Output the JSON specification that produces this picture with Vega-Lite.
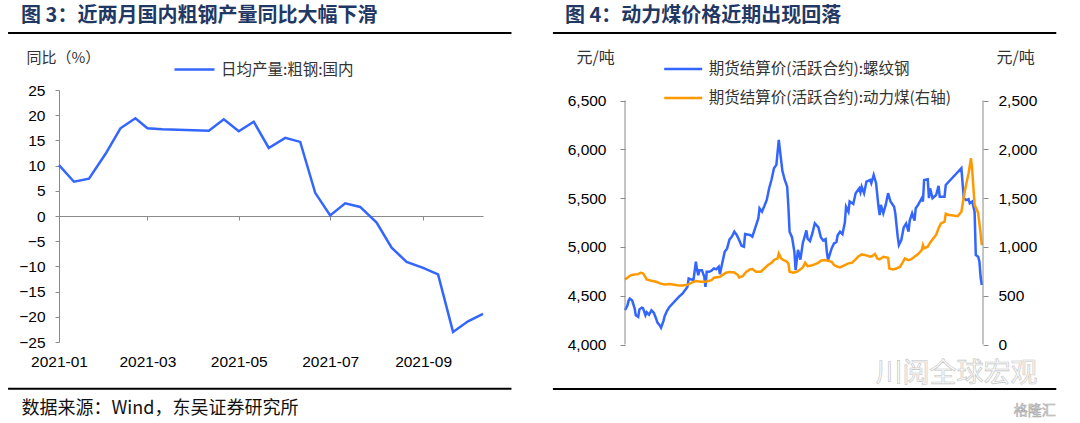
{
"$schema": "https://vega.github.io/schema/vega-lite/v6.json",
"padding": {"left": 7, "top": 5, "right": 0, "bottom": 0},
"background": "white",
"spacing": 38,
"resolve": {"scale": {"color": "independent"}, "legend": {"color": "independent"}},
"datasets": {
"steel": [{"date":"2021-01-01","value":10.1},{"date":"2021-01-11","value":6.8},{"date":"2021-01-21","value":7.4},{"date":"2021-02-01","value":12.3},{"date":"2021-02-11","value":17.4},{"date":"2021-02-21","value":19.4},{"date":"2021-03-01","value":17.4},{"date":"2021-03-11","value":17.2},{"date":"2021-04-11","value":16.9},{"date":"2021-04-21","value":19.2},{"date":"2021-05-01","value":16.8},{"date":"2021-05-11","value":18.7},{"date":"2021-05-21","value":13.5},{"date":"2021-06-01","value":15.5},{"date":"2021-06-11","value":14.7},{"date":"2021-06-21","value":4.6},{"date":"2021-07-01","value":0.1},{"date":"2021-07-11","value":2.5},{"date":"2021-07-21","value":1.8},{"date":"2021-08-01","value":-1.3},{"date":"2021-08-11","value":-6.3},{"date":"2021-08-21","value":-9.1},{"date":"2021-09-01","value":-10.3},{"date":"2021-09-11","value":-11.6},{"date":"2021-09-21","value":-23.0},{"date":"2021-10-01","value":-20.9},{"date":"2021-10-11","value":-19.4}],
"rebar": [{"date":"2021-01-04","value":4352},{"date":"2021-01-06","value":4400},{"date":"2021-01-07","value":4450},{"date":"2021-01-08","value":4470},{"date":"2021-01-10","value":4450},{"date":"2021-01-12","value":4370},{"date":"2021-01-13","value":4300},{"date":"2021-01-15","value":4283},{"date":"2021-01-16","value":4360},{"date":"2021-01-18","value":4378},{"date":"2021-01-19","value":4372},{"date":"2021-01-21","value":4300},{"date":"2021-01-22","value":4330},{"date":"2021-01-24","value":4305},{"date":"2021-01-26","value":4350},{"date":"2021-01-28","value":4325},{"date":"2021-01-30","value":4262},{"date":"2021-01-31","value":4225},{"date":"2021-02-02","value":4195},{"date":"2021-02-03","value":4172},{"date":"2021-02-05","value":4240},{"date":"2021-02-06","value":4290},{"date":"2021-02-08","value":4345},{"date":"2021-02-10","value":4385},{"date":"2021-02-18","value":4490},{"date":"2021-02-21","value":4523},{"date":"2021-02-24","value":4574},{"date":"2021-02-25","value":4591},{"date":"2021-02-26","value":4677},{"date":"2021-02-28","value":4667},{"date":"2021-03-02","value":4660},{"date":"2021-03-04","value":4848},{"date":"2021-03-05","value":4762},{"date":"2021-03-06","value":4711},{"date":"2021-03-07","value":4762},{"date":"2021-03-09","value":4762},{"date":"2021-03-11","value":4694},{"date":"2021-03-12","value":4591},{"date":"2021-03-13","value":4745},{"date":"2021-03-15","value":4745},{"date":"2021-03-17","value":4756},{"date":"2021-03-19","value":4780},{"date":"2021-03-21","value":4770},{"date":"2021-03-23","value":4797},{"date":"2021-03-24","value":4721},{"date":"2021-03-26","value":4838},{"date":"2021-03-28","value":4950},{"date":"2021-03-30","value":4985},{"date":"2021-04-01","value":5077},{"date":"2021-04-03","value":5105},{"date":"2021-04-05","value":5156},{"date":"2021-04-07","value":5122},{"date":"2021-04-09","value":5070},{"date":"2021-04-11","value":5012},{"date":"2021-04-13","value":5002},{"date":"2021-04-14","value":5132},{"date":"2021-04-16","value":5128},{"date":"2021-04-18","value":5122},{"date":"2021-04-20","value":5105},{"date":"2021-04-22","value":5180},{"date":"2021-04-25","value":5293},{"date":"2021-04-26","value":5395},{"date":"2021-04-28","value":5361},{"date":"2021-04-30","value":5419},{"date":"2021-05-02","value":5481},{"date":"2021-05-04","value":5601},{"date":"2021-05-06","value":5690},{"date":"2021-05-08","value":5806},{"date":"2021-05-10","value":5840},{"date":"2021-05-12","value":6097},{"date":"2021-05-13","value":5990},{"date":"2021-05-15","value":5780},{"date":"2021-05-17","value":5686},{"date":"2021-05-19","value":5617},{"date":"2021-05-20","value":5412},{"date":"2021-05-21","value":5156},{"date":"2021-05-23","value":5100},{"date":"2021-05-25","value":4950},{"date":"2021-05-26","value":4762},{"date":"2021-05-28","value":4970},{"date":"2021-05-30","value":4870},{"date":"2021-06-01","value":5037},{"date":"2021-06-04","value":5170},{"date":"2021-06-05","value":5085},{"date":"2021-06-07","value":5060},{"date":"2021-06-09","value":5140},{"date":"2021-06-11","value":5242},{"date":"2021-06-14","value":5200},{"date":"2021-06-16","value":5100},{"date":"2021-06-18","value":5065},{"date":"2021-06-20","value":5080},{"date":"2021-06-21","value":4950},{"date":"2021-06-22","value":4865},{"date":"2021-06-25","value":4985},{"date":"2021-06-27","value":5035},{"date":"2021-06-29","value":5050},{"date":"2021-06-30","value":5120},{"date":"2021-07-02","value":5156},{"date":"2021-07-04","value":5130},{"date":"2021-07-06","value":5250},{"date":"2021-07-07","value":5412},{"date":"2021-07-09","value":5360},{"date":"2021-07-10","value":5465},{"date":"2021-07-13","value":5440},{"date":"2021-07-15","value":5550},{"date":"2021-07-18","value":5600},{"date":"2021-07-19","value":5560},{"date":"2021-07-20","value":5617},{"date":"2021-07-22","value":5550},{"date":"2021-07-24","value":5669},{"date":"2021-07-27","value":5686},{"date":"2021-07-28","value":5652},{"date":"2021-07-30","value":5737},{"date":"2021-08-01","value":5652},{"date":"2021-08-03","value":5412},{"date":"2021-08-04","value":5327},{"date":"2021-08-05","value":5430},{"date":"2021-08-07","value":5344},{"date":"2021-08-09","value":5430},{"date":"2021-08-11","value":5550},{"date":"2021-08-13","value":5465},{"date":"2021-08-16","value":5412},{"date":"2021-08-17","value":5344},{"date":"2021-08-19","value":5105},{"date":"2021-08-20","value":5019},{"date":"2021-08-22","value":5070},{"date":"2021-08-24","value":5200},{"date":"2021-08-26","value":5240},{"date":"2021-08-28","value":5156},{"date":"2021-08-29","value":5270},{"date":"2021-08-31","value":5344},{"date":"2021-09-02","value":5270},{"date":"2021-09-03","value":5396},{"date":"2021-09-05","value":5430},{"date":"2021-09-08","value":5499},{"date":"2021-09-09","value":5465},{"date":"2021-09-10","value":5686},{"date":"2021-09-13","value":5693},{"date":"2021-09-14","value":5499},{"date":"2021-09-15","value":5600},{"date":"2021-09-17","value":5499},{"date":"2021-09-20","value":5532},{"date":"2021-09-22","value":5625},{"date":"2021-09-23","value":5515},{"date":"2021-09-27","value":5515},{"date":"2021-09-28","value":5635},{"date":"2021-10-11","value":5806},{"date":"2021-10-13","value":5499},{"date":"2021-10-15","value":5480},{"date":"2021-10-17","value":5490},{"date":"2021-10-18","value":5447},{"date":"2021-10-20","value":5465},{"date":"2021-10-22","value":5361},{"date":"2021-10-23","value":4916},{"date":"2021-10-25","value":4900},{"date":"2021-10-26","value":4850},{"date":"2021-10-27","value":4694},{"date":"2021-10-28","value":4610}],
"coal": [{"date":"2021-01-04","value":667},{"date":"2021-01-07","value":694},{"date":"2021-01-09","value":711},{"date":"2021-01-12","value":718},{"date":"2021-01-15","value":721},{"date":"2021-01-17","value":735},{"date":"2021-01-19","value":730},{"date":"2021-01-21","value":690},{"date":"2021-01-22","value":667},{"date":"2021-01-26","value":653},{"date":"2021-01-30","value":643},{"date":"2021-02-02","value":626},{"date":"2021-02-06","value":615},{"date":"2021-02-10","value":619},{"date":"2021-02-18","value":605},{"date":"2021-02-21","value":605},{"date":"2021-02-25","value":612},{"date":"2021-03-01","value":636},{"date":"2021-03-04","value":650},{"date":"2021-03-08","value":643},{"date":"2021-03-12","value":643},{"date":"2021-03-17","value":660},{"date":"2021-03-19","value":684},{"date":"2021-03-24","value":694},{"date":"2021-03-26","value":711},{"date":"2021-03-29","value":735},{"date":"2021-04-01","value":742},{"date":"2021-04-05","value":738},{"date":"2021-04-08","value":711},{"date":"2021-04-09","value":687},{"date":"2021-04-12","value":701},{"date":"2021-04-15","value":745},{"date":"2021-04-18","value":769},{"date":"2021-04-20","value":773},{"date":"2021-04-23","value":745},{"date":"2021-04-27","value":745},{"date":"2021-04-30","value":779},{"date":"2021-05-03","value":814},{"date":"2021-05-06","value":838},{"date":"2021-05-08","value":865},{"date":"2021-05-11","value":882},{"date":"2021-05-12","value":933},{"date":"2021-05-14","value":882},{"date":"2021-05-16","value":865},{"date":"2021-05-18","value":855},{"date":"2021-05-20","value":831},{"date":"2021-05-21","value":745},{"date":"2021-05-24","value":735},{"date":"2021-05-27","value":745},{"date":"2021-05-29","value":762},{"date":"2021-06-01","value":790},{"date":"2021-06-03","value":838},{"date":"2021-06-05","value":803},{"date":"2021-06-08","value":810},{"date":"2021-06-11","value":821},{"date":"2021-06-14","value":838},{"date":"2021-06-16","value":858},{"date":"2021-06-19","value":865},{"date":"2021-06-22","value":858},{"date":"2021-06-25","value":848},{"date":"2021-06-27","value":814},{"date":"2021-06-30","value":797},{"date":"2021-07-02","value":790},{"date":"2021-07-06","value":814},{"date":"2021-07-09","value":831},{"date":"2021-07-12","value":838},{"date":"2021-07-15","value":872},{"date":"2021-07-17","value":899},{"date":"2021-07-20","value":923},{"date":"2021-07-24","value":913},{"date":"2021-07-27","value":899},{"date":"2021-07-29","value":906},{"date":"2021-07-31","value":927},{"date":"2021-08-02","value":882},{"date":"2021-08-04","value":872},{"date":"2021-08-07","value":899},{"date":"2021-08-11","value":889},{"date":"2021-08-12","value":779},{"date":"2021-08-15","value":769},{"date":"2021-08-18","value":779},{"date":"2021-08-21","value":797},{"date":"2021-08-23","value":838},{"date":"2021-08-25","value":882},{"date":"2021-08-28","value":865},{"date":"2021-08-30","value":872},{"date":"2021-09-02","value":899},{"date":"2021-09-05","value":927},{"date":"2021-09-08","value":968},{"date":"2021-09-09","value":1019},{"date":"2021-09-10","value":985},{"date":"2021-09-13","value":1002},{"date":"2021-09-15","value":1043},{"date":"2021-09-17","value":1077},{"date":"2021-09-20","value":1122},{"date":"2021-09-22","value":1190},{"date":"2021-09-24","value":1241},{"date":"2021-09-27","value":1259},{"date":"2021-09-28","value":1340},{"date":"2021-09-30","value":1330},{"date":"2021-10-08","value":1315},{"date":"2021-10-11","value":1361},{"date":"2021-10-14","value":1583},{"date":"2021-10-17","value":1755},{"date":"2021-10-19","value":1908},{"date":"2021-10-20","value":1789},{"date":"2021-10-22","value":1430},{"date":"2021-10-24","value":1378},{"date":"2021-10-25","value":1344},{"date":"2021-10-27","value":1139},{"date":"2021-10-28","value":1019}]
},
"hconcat": [
{
"width": 424,
"height": 252,
"title": {"text": "图 3：近两月国内粗钢产量同比大幅下滑", "dx": 14},
"layer": [
{
"data": {"name": "steel"},
"mark": {"type": "line", "strokeWidth": 2.5},
"encoding": {
"x": {"field": "date", "type": "temporal",
"scale": {"type": "utc", "domain": [{"year":2021,"month":1,"date":1,"utc":true},{"year":2021,"month":10,"date":11,"utc":true}]},
"axis": {"orient": "bottom", "values": [{"year":2021,"month":1,"date":1,"utc":true},{"year":2021,"month":3,"date":1,"utc":true},{"year":2021,"month":5,"date":1,"utc":true},{"year":2021,"month":7,"date":1,"utc":true},{"year":2021,"month":9,"date":1,"utc":true}],
"format": "%Y-%m", "domain": false, "ticks": false, "tickSize": 0, "labelPadding": 12, "labelFlush": false, "labelAngle": 0,
"title": "数据来源：Wind，东吴证券研究所", "titleX": -38, "titleY": 66, "titleAlign": "left", "titleBaseline": "middle"}},
"y": {"field": "value", "type": "quantitative",
"scale": {"domain": [-25, 25], "nice": false, "zero": false},
"axis": {"orient": "left", "values": [-25,-20,-15,-10,-5,0,5,10,15,20,25], "tickSize": 4, "labelPadding": 10,
"title": "同比（%）", "titleAngle": 0, "titleX": -33, "titleY": -33, "titleAlign": "left", "titleBaseline": "middle", "titleFontSize": 15, "titleColor": "#333333"}},
"color": {"datum": "日均产量:粗钢:国内", "type": "nominal",
"scale": {"domain": ["日均产量:粗钢:国内"], "range": ["#3366ff"]},
"legend": {"orient": "none", "legendX": 114, "legendY": -42, "title": null, "symbolType": "stroke", "symbolSize": 1600, "symbolStrokeWidth": 2.5, "labelFont": "Noto Sans CJK SC", "labelFontSize": 15.5, "labelColor": "#333333", "labelOffset": 5, "padding": 0, "labelLimit": 500}}
}
},
{
"data": {"values": [{}]},
"mark": {"type": "rule", "strokeWidth": 2, "color": "#000000"},
"encoding": {
"x": {"datum": {"year":2020,"month":11,"date":28,"utc":true}, "type": "temporal",
"scale": {"type": "utc", "domain": [{"year":2021,"month":1,"date":1,"utc":true},{"year":2021,"month":10,"date":11,"utc":true}]},
"axis": {"orient": "bottom", "offset": -126, "labels": false, "domain": true, "ticks": true, "tickSize": 4, "title": null, "values": [{"year":2021,"month":1,"date":1,"utc":true},{"year":2021,"month":3,"date":1,"utc":true},{"year":2021,"month":5,"date":1,"utc":true},{"year":2021,"month":7,"date":1,"utc":true},{"year":2021,"month":9,"date":1,"utc":true}]}},
"x2": {"datum": {"year":2021,"month":10,"date":30,"utc":true}},
"y": {"datum": 36.3, "type": "quantitative", "scale": {"domain": [-25, 25], "nice": false, "zero": false}, "axis": null}
}
},
{
"data": {"values": [{}]},
"mark": {"type": "rule", "strokeWidth": 2, "color": "#000000"},
"encoding": {
"x": {"datum": {"year":2020,"month":11,"date":28,"utc":true}, "type": "temporal",
"scale": {"type": "utc", "domain": [{"year":2021,"month":1,"date":1,"utc":true},{"year":2021,"month":10,"date":11,"utc":true}]}, "axis": null},
"x2": {"datum": {"year":2021,"month":10,"date":30,"utc":true}},
"y": {"datum": -34.3, "type": "quantitative", "scale": {"domain": [-25, 25], "nice": false, "zero": false}, "axis": null}
}
}
],
"resolve": {"scale": {"y": "independent"}, "axis": {"x": "independent"}}
},
{
"width": 358,
"height": 254.5,
"title": {"text": "图 4：动力煤价格近期出现回落", "dx": 13},
"layer": [
{
"data": {"name": "rebar"},
"mark": {"type": "line", "strokeWidth": 2.5},
"encoding": {
"x": {"field": "date", "type": "temporal",
"scale": {"type": "utc", "domain": [{"year":2021,"month":1,"date":4,"utc":true},{"year":2021,"month":10,"date":29,"utc":true}]},
"axis": {"orient": "bottom", "values": [{"year":2021,"month":1,"date":4,"utc":true},{"year":2021,"month":3,"date":4,"utc":true},{"year":2021,"month":5,"date":4,"utc":true},{"year":2021,"month":7,"date":4,"utc":true},{"year":2021,"month":9,"date":4,"utc":true}],
"format": "%Y-%m", "tickSize": 4, "labelPadding": 6, "labelFlush": false, "labelAngle": 0,
"title": "数据来源：Wind，东吴证券研究所", "titleX": -61, "titleY": 63.5, "titleAlign": "left", "titleBaseline": "middle"}},
"y": {"field": "value", "type": "quantitative",
"scale": {"domain": [4000, 6607.6], "nice": false, "zero": false},
"axis": {"orient": "left", "values": [4000,4500,5000,5500,6000,6500], "format": ",.0f", "domain": false, "tickSize": 5, "labelPadding": 14,
"title": "元/吨", "titleAngle": 0, "titleX": -49, "titleY": -33, "titleAlign": "left", "titleBaseline": "middle", "titleFontSize": 16, "titleColor": "#333333"}},
"color": {"datum": "期货结算价(活跃合约):螺纹钢", "type": "nominal",
"scale": {"domain": ["期货结算价(活跃合约):螺纹钢", "期货结算价(活跃合约):动力煤(右轴)"], "range": ["#3366ff", "#ff9900"]},
"legend": {"orient": "none", "legendX": 37.7, "legendY": -41.5, "direction": "vertical", "title": null, "symbolType": "stroke", "symbolSize": 1444, "symbolStrokeWidth": 2.5, "labelFont": "Noto Sans CJK SC", "labelFontSize": 15.5, "labelColor": "#333333", "labelOffset": 5, "padding": 0, "rowPadding": -6, "labelLimit": 500}}
}
},
{
"data": {"name": "coal"},
"mark": {"type": "line", "strokeWidth": 2.5},
"encoding": {
"x": {"field": "date", "type": "temporal",
"scale": {"type": "utc", "domain": [{"year":2021,"month":1,"date":4,"utc":true},{"year":2021,"month":10,"date":29,"utc":true}]}, "axis": null},
"y": {"field": "value", "type": "quantitative",
"scale": {"domain": [0, 2607.6], "nice": false, "zero": false},
"axis": {"orient": "right", "values": [0,500,1000,1500,2000,2500], "format": ",.0f", "domain": false, "tickSize": 5, "labelPadding": 10,
"title": "元/吨", "titleAngle": 0, "titleX": 13, "titleY": -33, "titleAlign": "left", "titleBaseline": "middle", "titleFontSize": 16, "titleColor": "#333333"}},
"color": {"datum": "期货结算价(活跃合约):动力煤(右轴)", "type": "nominal"}
}
},
{
"data": {"values": [{}]},
"mark": {"type": "rule", "strokeWidth": 1, "color": "#8a8a8a"},
"encoding": {
"x": {"datum": {"year":2021,"month":1,"date":4,"utc":true}, "type": "temporal",
"scale": {"type": "utc", "domain": [{"year":2021,"month":1,"date":4,"utc":true},{"year":2021,"month":10,"date":29,"utc":true}]}, "axis": null},
"y": {"datum": 4000, "type": "quantitative", "scale": {"domain": [4000, 6607.6], "nice": false, "zero": false}, "axis": null},
"y2": {"datum": 6500}
}
},
{
"data": {"values": [{}]},
"mark": {"type": "rule", "strokeWidth": 1, "color": "#8a8a8a"},
"encoding": {
"x": {"datum": {"year":2021,"month":10,"date":29,"utc":true}, "type": "temporal",
"scale": {"type": "utc", "domain": [{"year":2021,"month":1,"date":4,"utc":true},{"year":2021,"month":10,"date":29,"utc":true}]}, "axis": null},
"y": {"datum": 4000, "type": "quantitative", "scale": {"domain": [4000, 6607.6], "nice": false, "zero": false}, "axis": null},
"y2": {"datum": 6500}
}
},
{
"data": {"values": [{}]},
"mark": {"type": "rule", "strokeWidth": 2, "color": "#000000"},
"encoding": {
"x": {"datum": {"year":2020,"month":11,"date":5,"utc":true}, "type": "temporal",
"scale": {"type": "utc", "domain": [{"year":2021,"month":1,"date":4,"utc":true},{"year":2021,"month":10,"date":29,"utc":true}]}, "axis": null},
"x2": {"datum": {"year":2021,"month":12,"date":29,"utc":true}},
"y": {"datum": 7192, "type": "quantitative", "scale": {"domain": [4000, 6607.6], "nice": false, "zero": false}, "axis": null}
}
},
{
"data": {"values": [{}]},
"mark": {"type": "rule", "strokeWidth": 2, "color": "#000000"},
"encoding": {
"x": {"datum": {"year":2020,"month":11,"date":5,"utc":true}, "type": "temporal",
"scale": {"type": "utc", "domain": [{"year":2021,"month":1,"date":4,"utc":true},{"year":2021,"month":10,"date":29,"utc":true}]}, "axis": null},
"x2": {"datum": {"year":2021,"month":12,"date":29,"utc":true}},
"y": {"datum": 3544, "type": "quantitative", "scale": {"domain": [4000, 6607.6], "nice": false, "zero": false}, "axis": null}
}
},
{
"data": {"values": [{}]},
"mark": {"type": "text", "text": "川阅全球宏观", "font": "Noto Sans CJK SC", "fontSize": 27, "fill": "#fafafa", "stroke": "#c4c4c4", "strokeWidth": 0.6, "align": "center", "baseline": "middle"},
"encoding": {
"x": {"datum": {"year":2021,"month":10,"date":7,"utc":true}, "type": "temporal",
"scale": {"type": "utc", "domain": [{"year":2021,"month":1,"date":4,"utc":true},{"year":2021,"month":10,"date":29,"utc":true}]}, "axis": null},
"y": {"datum": 3698, "type": "quantitative", "scale": {"domain": [4000, 6607.6], "nice": false, "zero": false}, "axis": null}
}
},
{
"data": {"values": [{}]},
"mark": {"type": "text", "text": "格隆汇", "font": "Noto Sans CJK SC", "fontSize": 14, "fill": "#eeeeee", "stroke": "#a8a8a8", "strokeWidth": 0.6, "align": "center", "baseline": "middle"},
"encoding": {
"x": {"datum": {"year":2021,"month":12,"date":11,"utc":true}, "type": "temporal",
"scale": {"type": "utc", "domain": [{"year":2021,"month":1,"date":4,"utc":true},{"year":2021,"month":10,"date":29,"utc":true}]}, "axis": null},
"y": {"datum": 3318, "type": "quantitative", "scale": {"domain": [4000, 6607.6], "nice": false, "zero": false}, "axis": null}
}
}
],
"resolve": {"scale": {"y": "independent"}}
}
],
"config": {
"view": {"stroke": null},
"axis": {"grid": false, "labelFont": "Liberation Sans", "labelFontSize": 15.5, "labelColor": "#000000", "domainColor": "#8a8a8a", "tickColor": "#8a8a8a", "domainWidth": 1, "tickWidth": 1, "titleFont": "Noto Sans CJK SC", "titleFontWeight": "normal", "titleColor": "#111111", "titleFontSize": 18},
"title": {"font": "Noto Sans CJK SC", "fontSize": 20, "fontWeight": "bold", "color": "#1f3864", "anchor": "start", "frame": "bounds", "offset": 6}
}
}
